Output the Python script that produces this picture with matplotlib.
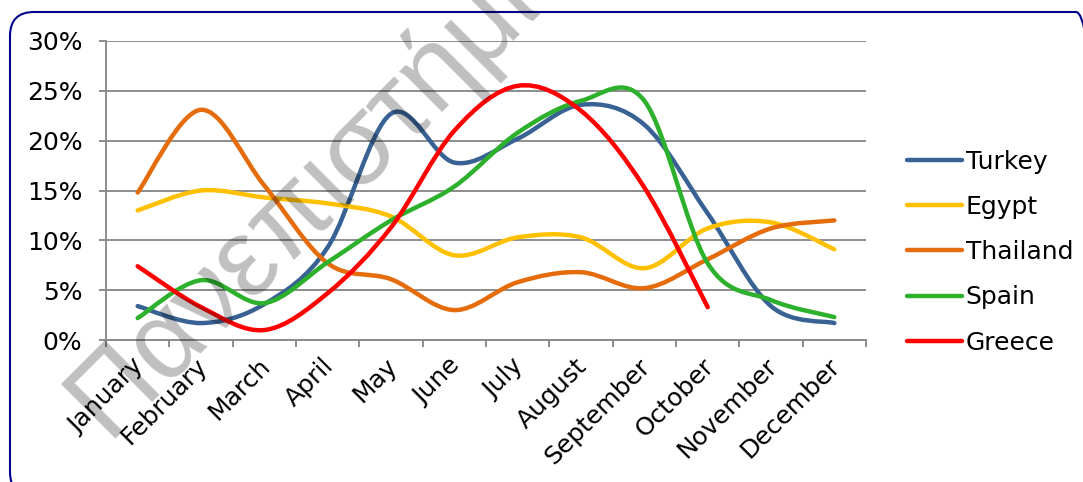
import matplotlib.pyplot as plt
import numpy as np
from matplotlib.path import Path
from matplotlib.patches import PathPatch, FancyBboxPatch
from matplotlib.lines import Line2D
from matplotlib.ticker import FuncFormatter
from matplotlib.transforms import IdentityTransform, ScaledTranslation

months = ["January", "February", "March", "April", "May", "June", "July",
          "August", "September", "October", "November", "December"]

turkey = [3.4, 1.7, 3.6, 9.3, 22.7, 17.8, 20.2, 23.6, 21.6, 12.7, 3.4, 1.7]
egypt = [13.0, 15.0, 14.3, 13.7, 12.4, 8.5, 10.3, 10.3, 7.2, 11.2, 11.8, 9.1]
thailand = [14.8, 23.1, 15.5, 7.7, 6.1, 3.0, 5.8, 6.8, 5.2, 8.1, 11.2, 12.0]
spain = [2.2, 6.0, 3.7, 7.8, 12.0, 15.4, 20.8, 24.0, 24.0, 7.7, 4.0, 2.3]
greece = [7.4, 3.3, 1.0, 4.7, 11.3, 21.0, 25.5, 23.0, 15.3, 3.3]

series = [("Turkey", turkey, "#386293"),
          ("Egypt", egypt, "#FFC000"),
          ("Thailand", thailand, "#E46C0A"),
          ("Spain", spain, "#2DB12D"),
          ("Greece", greece, "#FF0000")]


def smooth_path(xs, ys):
    # cubic bezier through every point, catmull-rom style tangents
    pts = np.column_stack([xs, ys])
    n = len(pts)
    verts = [pts[0]]
    codes = [Path.MOVETO]
    for i in range(n - 1):
        p0 = pts[max(i - 1, 0)]
        p1 = pts[i]
        p2 = pts[i + 1]
        p3 = pts[min(i + 2, n - 1)]
        c1 = p1 + (p2 - p0) / 6.0
        c2 = p2 - (p3 - p1) / 6.0
        verts += [c1, c2, p2]
        codes += [Path.CURVE4] * 3
    return Path(verts, codes)


plt.rcParams['font.family'] = 'DejaVu Sans'
fig = plt.figure(figsize=(10.83, 4.82), dpi=100)

# rounded frame around the whole chart (pixel coordinates, origin bottom-left)
frame = FancyBboxPatch((10, -14), 1090, 484, boxstyle="round,pad=0,rounding_size=24",
                       transform=IdentityTransform(), facecolor="none",
                       edgecolor="#00008B", lw=1.5)
fig.patches.append(frame)

ax = fig.add_axes([106 / 1083, 1 - 340 / 482, 760 / 1083, 299 / 482])

for name, vals, col in series:
    xs = np.arange(len(vals)) + 0.5
    ax.add_patch(PathPatch(smooth_path(xs, vals), facecolor="none",
                           edgecolor=col, lw=3.2, capstyle="round",
                           joinstyle="round", zorder=3))

ax.set_xlim(0, 12)
ax.set_ylim(0, 30)
ax.set_yticks(range(0, 31, 5))
ax.yaxis.set_major_formatter(FuncFormatter(lambda v, p: f"{v:.0f}%"))
ax.grid(axis="y", color="#8C8C8C", lw=1.4)
ax.set_axisbelow(True)

ax.set_xticks(range(0, 13))
ax.set_xticklabels([])
ax.set_xticks(np.arange(12) + 0.5, minor=True)
ax.set_xticklabels(months, minor=True, rotation=45, ha="right", va="top",
                   rotation_mode="anchor")
ax.tick_params(axis="x", which="minor", length=0, pad=10, labelsize=18)
ax.tick_params(axis="x", which="major", length=5, width=1.4, color="#8C8C8C")
ax.tick_params(axis="y", length=5, width=1.4, color="#8C8C8C", pad=12,
               labelsize=18)
shift = ScaledTranslation(-6 / 100, 0, fig.dpi_scale_trans)
for lab in ax.get_xticklabels(minor=True):
    lab.set_transform(lab.get_transform() + shift)

for s in ["top", "right"]:
    ax.spines[s].set_visible(False)
for s in ["left", "bottom"]:
    ax.spines[s].set_color("#8C8C8C")
    ax.spines[s].set_linewidth(1.4)

handles = [Line2D([], [], color=c, lw=3.2, solid_capstyle="round")
           for _, _, c in series]
fig.legend(handles, [n for n, _, _ in series], loc="upper left",
           bbox_to_anchor=(884 / 1083, 1 - 127 / 482), frameon=False,
           fontsize=18, handlelength=2.2, handletextpad=0.16,
           labelspacing=0.85)

# semi-transparent watermark across the chart
fig.text(110 / 1083, 1 - 445 / 482, "Πανεπιστήμιο Πειραιώς",
         family="Liberation Sans", fontsize=80, color="black", alpha=0.25,
         rotation=45, rotation_mode="anchor", ha="left", va="baseline",
         zorder=10)

fig.savefig("out.png", dpi=100)
